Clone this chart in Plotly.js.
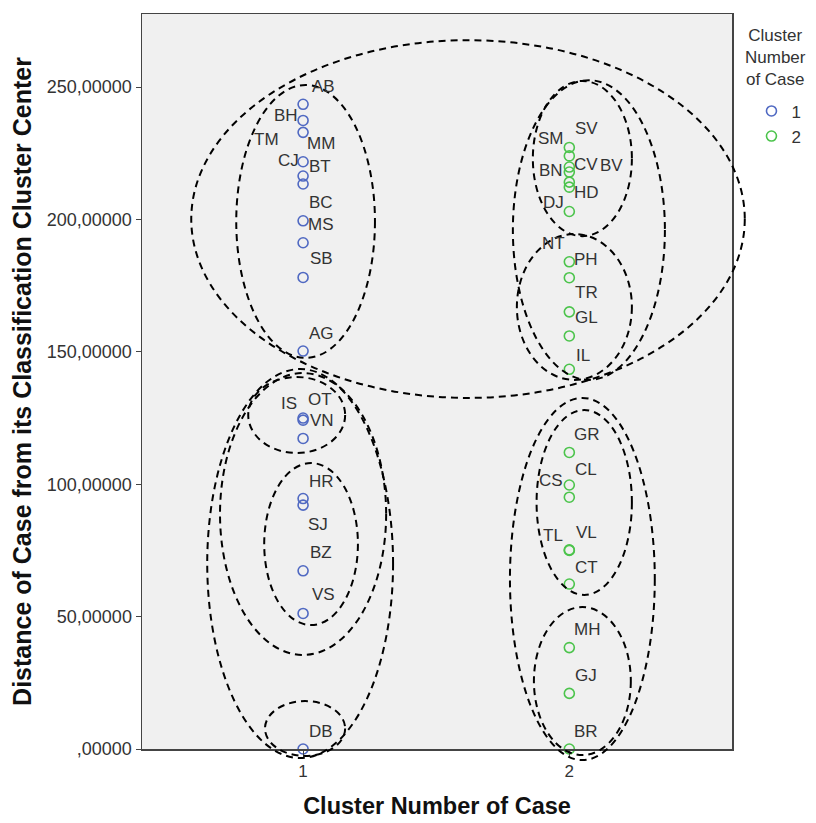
<!DOCTYPE html>
<html>
<head>
<meta charset="utf-8">
<script src="https://cdn.plot.ly/plotly-3.0.1.min.js"></script>
<style>html,body{margin:0;padding:0;background:#fff}#chart{width:816px;height:823px}</style>
</head>
<body>
<div id="chart"></div>
<script>
// ---- data ----
const cluster1Names = ['AB','BH','TM','MM','CJ','BT','BC','MS','SB','AG','OT','IS','VN','HR','SJ','BZ','VS','DB'];
const cluster1Dist  = [243.5,237.4,232.9,221.8,216.4,213.4,199.5,191.2,178.1,150.3,125.0,124.2,117.3,94.6,92.1,67.3,51.2,0];
const cluster2Names = ['SV','SM','CV','BN','BV','HD','DJ','NT','PH','TR','GL','IL','GR','CL','CS','VL','TL','CT','MH','GJ','BR'];
const cluster2Dist  = [227.2,224.0,219.8,217.9,214.1,212.2,203.0,184.0,178.0,165.1,156.0,143.4,112.0,99.7,95.1,75.2,75.0,62.3,38.3,21.0,0];
const yTickVals  = [0,50,100,150,200,250];
const yTickText  = [',00000','50,00000','100,00000','150,00000','200,00000','250,00000'];
const xTickVals  = [1,2];
const xTickText  = ['1','2'];
const legendTitle = 'Cluster<br>Number<br>of Case';

// ---- label placement (pixel offsets from each point: dx right, dy down) ----
const labelOffsets = {
  AB:[20,-18], BH:[-17,-5], TM:[-37,7], MM:[18,-18], CJ:[-15,-16], BT:[17,-17], BC:[18,-18],
  MS:[18,-18], SB:[18,-19], AG:[18,-18], OT:[17,-19], IS:[-14,-17], VN:[19,-18], HR:[18,-17],
  SJ:[15,19], BZ:[18,-18], VS:[20,-19], DB:[18,-18],
  SV:[17,-19], SM:[-18,-17], CV:[17,-3], BN:[-18,-2], BV:[42,-17], HD:[17,5], DJ:[-16,-9],
  NT:[-16,-18], PH:[17,-18], TR:[17,-19], GL:[17,-18], IL:[14,-14], GR:[18,-18], CL:[17,-16],
  CS:[-18,-17], VL:[17,-17], TL:[-16,-15], CT:[17,-17], MH:[18,-18], GJ:[17,-18], BR:[17,-18]
};

// ---- hand-drawn group ellipses (in axis units) ----
const groupEllipses = [
  [0.580,2.659,132.6,267.7],
  [0.749,1.270,147.7,250.8],
  [1.863,2.235,193.7,252.3],
  [1.788,2.359,139.4,252.6],
  [1.803,2.235,139.4,194.5],
  [0.794,1.158,111.8,140.5],
  [0.688,1.312,35.5,142.0],
  [0.854,1.206,46.8,108.0],
  [0.640,1.338,-3.4,143.5],
  [0.857,1.158,-2.6,18.1],
  [1.877,2.235,58.2,128.0],
  [1.777,2.321,-4.2,132.6],
  [1.867,2.231,-2.3,53.6]
];

const xRange = [0.395, 2.611];
const yRange = [0, 277.6];

const FONT = 'Liberation Sans, Arial, sans-serif';
const blue = '#5069c2', green = '#4cc44c';

function mk(names, vals, cl, color){
  return {
    type:'scatter', mode:'markers', name:String(cl),
    x: names.map(()=>cl), y: vals,
    marker:{symbol:'circle-open', size:10, color:color, line:{width:1.6, color:color}},
    cliponaxis:false, hoverinfo:'skip'
  };
}
const traces = [mk(cluster1Names, cluster1Dist, 1, blue), mk(cluster2Names, cluster2Dist, 2, green)];

const annotations = [];
function addLabels(names, vals, cl){
  names.forEach((n,i)=>{
    const o = labelOffsets[n] || [18,-18];
    annotations.push({x:cl, y:vals[i], xref:'x', yref:'y', text:n, showarrow:false,
      xshift:o[0], yshift:-o[1], xanchor:'center', yanchor:'middle',
      font:{family:FONT, size:17, color:'#333'}});
  });
}
addLabels(cluster1Names, cluster1Dist, 1);
addLabels(cluster2Names, cluster2Dist, 2);

// legend title
annotations.push({xref:'paper', yref:'paper', x:1.0745, y:0.986, xanchor:'center', yanchor:'top',
  text:legendTitle, showarrow:false, align:'center',
  font:{family:FONT, size:17, color:'#333'}});

const px = v => (v - xRange[0])/(xRange[1]-xRange[0]);
const py = v => (v - yRange[0])/(yRange[1]-yRange[0]);
const shapes = groupEllipses.map(e => ({
  type:'circle', xref:'paper', yref:'paper',
  x0:px(e[0]), x1:px(e[1]), y0:py(e[2]), y1:py(e[3]),
  line:{color:'#000', width:2, dash:'7px,5px'}, layer:'above'
}));

const layout = {
  width:816, height:823,
  margin:{l:142, r:84, t:14, b:74, autoexpand:false},
  paper_bgcolor:'#fff', plot_bgcolor:'#f0f0f0',
  font:{family:FONT, size:17, color:'#333'},
  showlegend:true,
  legend:{x:1.033, xanchor:'left', y:0.892, yanchor:'top', bgcolor:'rgba(0,0,0,0)',
    font:{family:FONT, size:17, color:'#333'}, itemwidth:30, tracegroupgap:0},
  xaxis:{range:xRange, tickvals:xTickVals, ticktext:xTickText, showgrid:false, zeroline:false,
    showline:true, linecolor:'#444', linewidth:1.5, mirror:true, ticks:'outside', ticklen:6, tickcolor:'#444',
    tickfont:{family:FONT, size:17, color:'#333'},
    title:{text:'<b>Cluster Number of Case</b>', font:{family:FONT, size:23.5, color:'#111'}, standoff:17}},
  yaxis:{range:yRange, tickvals:yTickVals, ticktext:yTickText, showgrid:false, zeroline:false,
    showline:true, linecolor:'#444', linewidth:1.5, mirror:true, ticks:'outside', ticklen:5, tickcolor:'#444',
    tickfont:{family:FONT, size:18, color:'#333'},
    title:{text:'<b>Distance of Case from its Classification Cluster Center</b>', font:{family:FONT, size:25, color:'#111'}, standoff:8}},
  annotations:annotations,
  shapes:shapes
};

Plotly.newPlot('chart', traces, layout, {staticPlot:true, displayModeBar:false});
</script>
</body>
</html>
